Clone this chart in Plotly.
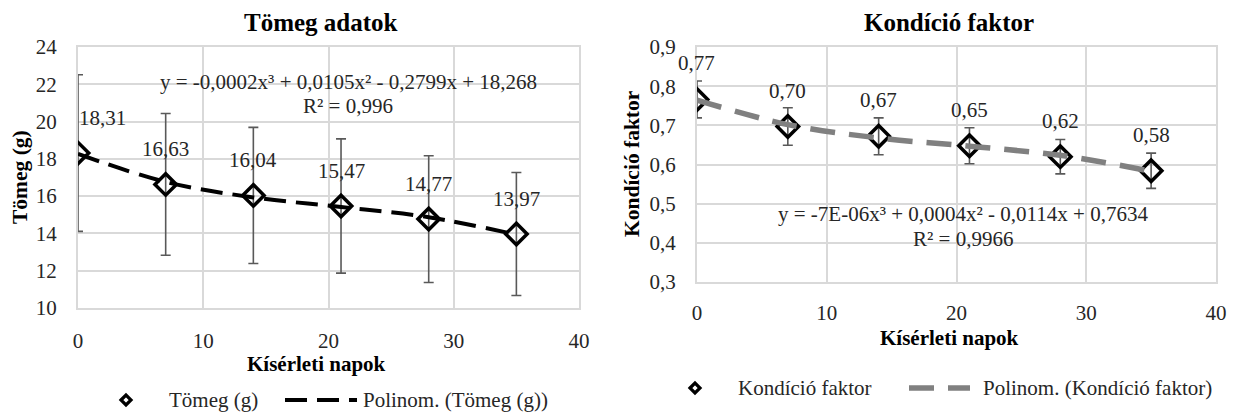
import numpy as np
import plotly.graph_objects as go

# ---------------- data ----------------
days = [0, 7, 14, 21, 28, 35]
tomeg = [18.31, 16.63, 16.04, 15.47, 14.77, 13.97]
tomeg_err = [4.2, 3.8, 3.65, 3.6, 3.4, 3.3]
kond = [0.766, 0.697, 0.672, 0.648, 0.620, 0.584]
kond_err = [0.047, 0.048, 0.047, 0.046, 0.044, 0.045]

eq_left = "y = -0,0002x³ + 0,0105x² - 0,2799x + 18,268"
r2_left = "R² = 0,996"
eq_right = "y = -7E-06x³ + 0,0004x² - 0,0114x + 0,7634"
r2_right = "R² = 0,9966"

W, H = 1236, 414
FONT = "Liberation Serif, Times New Roman, serif"
GRID = "#d9d9d9"
TXT = "#262626"
ERR = "#595959"
DASH_L = "22px,10px"
DASH_R = "25px,14px"
TREND_R = "#808080"


def px(xp):
    return xp / W


def py(yp):
    return 1 - yp / H


def fmt(v):
    return f"{v:.2f}".replace(".", ",")


# trend lines: cubic least-squares fit of the data (Excel polynomial trendline)
fit_l = np.polyval(np.polyfit(days, tomeg, 3), days)
fit_r = np.polyval(np.polyfit(days, kond, 3), days)

fig = go.Figure()

fig.add_trace(go.Scatter(
    x=days, y=tomeg, mode="markers", name="Tömeg (g)",
    marker=dict(symbol="diamond-open", size=16.5, color="black", line=dict(width=3.5)),
    error_y=dict(type="data", array=tomeg_err, color=ERR, thickness=1.6, width=5),
    xaxis="x", yaxis="y",
))
fig.add_trace(go.Scatter(
    x=days, y=fit_l, mode="lines", name="Polinom. (Tömeg (g))", line_shape="spline",
    line=dict(color="black", width=4, dash=DASH_L),
    xaxis="x", yaxis="y",
))
fig.add_trace(go.Scatter(
    x=days, y=kond, mode="markers", name="Kondíció faktor",
    marker=dict(symbol="diamond-open", size=16.5, color="black", line=dict(width=3.5)),
    error_y=dict(type="data", array=kond_err, color=ERR, thickness=1.6, width=5),
    xaxis="x2", yaxis="y2",
))
fig.add_trace(go.Scatter(
    x=days, y=fit_r, mode="lines", name="Polinom. (Kondíció faktor)", line_shape="spline",
    line=dict(color=TREND_R, width=5.5, dash=DASH_R),
    xaxis="x2", yaxis="y2",
))

axis_common = dict(
    showgrid=True, gridcolor=GRID, gridwidth=1.5,
    showline=True, linecolor=GRID, linewidth=2, mirror=True,
    zeroline=False, ticks="", automargin=False,
    tickfont=dict(family=FONT, size=21, color=TXT),
)

annotations = []
for i, (d, v) in enumerate(zip(days, tomeg)):
    annotations.append(dict(x=d, y=v, xref="x", yref="y", text=fmt(v), showarrow=False,
                            yshift=35, xshift=24 if i == 0 else 0,
                            font=dict(family=FONT, size=21, color=TXT)))
for i, (d, v) in enumerate(zip(days, kond)):
    annotations.append(dict(x=d, y=v, xref="x2", yref="y2", text=fmt(v), showarrow=False,
                            yshift=36, xshift=-1 if i == 0 else 0,
                            font=dict(family=FONT, size=21, color=TXT)))


def paper_text(x, y, text, size, bold=False, angle=0, color=TXT, xanchor="center"):
    t = f"<b>{text}</b>" if bold else text
    return dict(x=px(x), y=py(y), xref="paper", yref="paper", text=t, showarrow=False,
                textangle=angle, xanchor=xanchor, yanchor="middle", borderpad=0,
                font=dict(family=FONT, size=size, color=color))


annotations += [
    paper_text(321, 22, "Tömeg adatok", 25, bold=True, color="black"),
    paper_text(949, 22, "Kondíció faktor", 25, bold=True, color="black"),
    paper_text(316, 364, "Kísérleti napok", 21, bold=True, color="black"),
    paper_text(949, 338, "Kísérleti napok", 21, bold=True, color="black"),
    paper_text(20, 177, "Tömeg (g)", 21.5, bold=True, angle=-90, color="black"),
    paper_text(632, 164, "Kondíció faktor", 21.5, bold=True, angle=-90, color="black"),
    paper_text(348, 82, eq_left, 21),
    paper_text(348, 106, r2_left, 21),
    paper_text(963, 214, eq_right, 21),
    paper_text(963, 239, r2_right, 21),
    # legend texts
    paper_text(168, 400, "Tömeg (g)", 21, xanchor="left"),
    paper_text(362, 400, "Polinom. (Tömeg (g))", 21, xanchor="left"),
    paper_text(737, 388, "Kondíció faktor", 21, xanchor="left"),
    paper_text(982, 388, "Polinom. (Kondíció faktor)", 21, xanchor="left"),
]


def legend_diamond(cx, cy, r=5):
    path = (f"M {px(cx - r)},{py(cy)} L {px(cx)},{py(cy - r)} "
            f"L {px(cx + r)},{py(cy)} L {px(cx)},{py(cy + r)} Z")
    return dict(type="path", xref="paper", yref="paper", path=path,
                fillcolor="white", line=dict(color="black", width=3.2))


shapes = [
    legend_diamond(126, 400),
    dict(type="line", xref="paper", yref="paper", x0=px(285), x1=px(357),
         y0=py(400), y1=py(400), line=dict(color="black", width=4, dash=DASH_L)),
    legend_diamond(695, 388),
    dict(type="line", xref="paper", yref="paper", x0=px(909), x1=px(970),
         y0=py(388), y1=py(388), line=dict(color=TREND_R, width=5.5, dash=DASH_R)),
]

fig.update_layout(
    width=W, height=H, autosize=False,
    margin=dict(l=0, r=0, t=0, b=0, pad=0, autoexpand=False),
    paper_bgcolor="white", plot_bgcolor="white",
    font=dict(family=FONT, color=TXT),
    separators=", ",
    showlegend=False,
    xaxis=dict(domain=[px(78), px(579)], range=[0, 40], dtick=10, anchor="y",
               ticklabelstandoff=13, **axis_common),
    yaxis=dict(domain=[py(308), py(47)], range=[10, 24], dtick=2, anchor="x",
               ticklabelstandoff=15, **axis_common),
    xaxis2=dict(domain=[px(697), px(1216)], range=[0, 40], dtick=10, anchor="y2",
                ticklabelstandoff=11, **axis_common),
    yaxis2=dict(domain=[py(282), py(47)], range=[0.3, 0.9], dtick=0.1, tickformat=".1f",
                anchor="x2", ticklabelstandoff=15, **axis_common),
    annotations=annotations,
    shapes=shapes,
)

fig.write_html(
    "out.html",
    post_script=(
        "document.body.style.margin='0';"
        "document.body.style.padding='0';"
        "document.documentElement.style.overflow='hidden';"
    ),
)
